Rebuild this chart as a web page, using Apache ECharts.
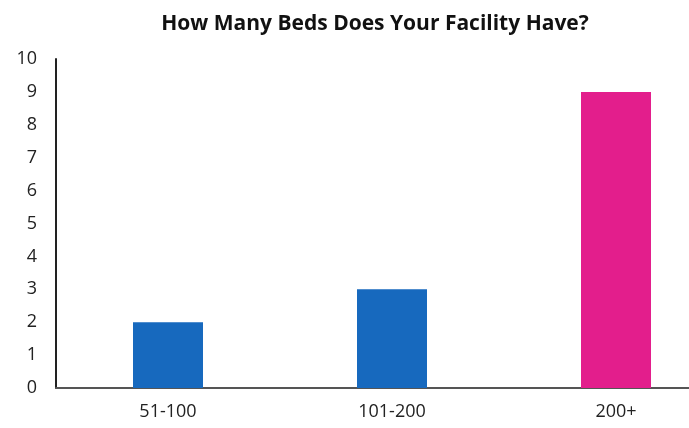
<!DOCTYPE html>
<html><head><meta charset="utf-8">
<script src="https://cdn.jsdelivr.net/npm/echarts@6/dist/echarts.min.js"></script>
<style>html,body{margin:0;padding:0;background:#fff;overflow:hidden}#c{width:750px;height:428px}</style>
</head><body><div id="c"></div>
<script>
const categories = ['51-100', '101-200', '200+'];
const values = [2, 3, 9];
const barColors = ['#1769be', '#1769be', '#e31e8c'];
const yTicks = [0, 10, 1];

const chart = echarts.init(document.getElementById('c'));
chart.setOption({
  animation: false,
  title: {
    text: 'How Many Beds Does Your Facility Have?',
    left: 'center', top: 9,
    textStyle: { fontFamily: 'Open Sans', fontWeight: 'bold', fontSize: 21, color: '#111' }
  },
  grid: { left: 56, top: 59, right: 22, bottom: 40 },
  xAxis: {
    type: 'category', data: categories,
    axisLine: { lineStyle: { color: '#555', width: 2 } },
    axisTick: { show: false },
    axisLabel: { margin: 15, fontFamily: 'Open Sans', fontSize: 18, color: '#222' }
  },
  yAxis: {
    type: 'value', min: yTicks[0], max: yTicks[1], interval: yTicks[2],
    axisLine: { show: true, lineStyle: { color: '#222', width: 2 } },
    axisTick: { show: false },
    splitLine: { show: false },
    axisLabel: { margin: 19, fontFamily: 'Open Sans', fontSize: 18, color: '#222' }
  },
  series: [{
    type: 'bar', barWidth: 70,
    data: values.map((v, i) => ({ value: v, itemStyle: { color: barColors[i] } }))
  }]
});
</script></body></html>
